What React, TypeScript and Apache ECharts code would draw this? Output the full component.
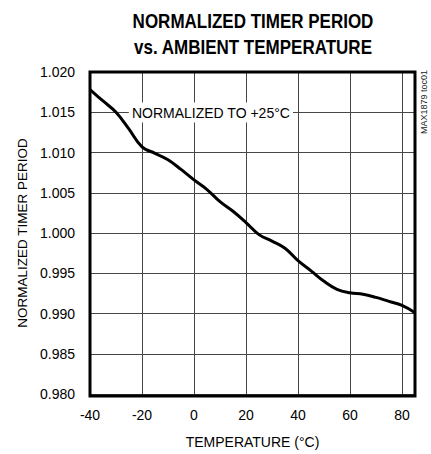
import React, { useEffect, useRef } from "react";
import * as echarts from "echarts";

const temperatures = [-40, -35, -30, -25, -20, -15, -10, -5, 0, 5, 10, 15, 20, 25, 30, 35, 40, 45, 50, 55, 60, 65, 70, 75, 80, 85];
const periods = [1.0178, 1.0164, 1.015, 1.0129, 1.0107, 1.0099, 1.0091, 1.0079, 1.0066, 1.0054, 1.0039, 1.0027, 1.0013, 0.9998, 0.999, 0.9981, 0.99656, 0.9953, 0.994, 0.993, 0.99257, 0.9924, 0.992, 0.9915, 0.991, 0.9901];
const xTicks = { min: -40, max: 85, interval: 20 };
const yTicks = { min: 0.98, max: 1.02, interval: 0.005 };
const xGridValues = [-20, 0, 20, 40, 60, 80];
const yGridValues = [0.985, 0.99, 0.995, 1.0, 1.005, 1.01, 1.015];
const titleLines = ["NORMALIZED TIMER PERIOD", "vs. AMBIENT TEMPERATURE"];
const noteText = "NORMALIZED TO +25°C";
const noteAt = [6.5, 1.015];
const partText = "MAX1879 toc01";

const SANS = "'Liberation Sans', Arial, Helvetica, sans-serif";
const GRID_COLOR = "rgb(70,70,70)";
const W = 431;
const H = 454;
const GRID = { left: 90, right: 16, top: 72, bottom: 58 };

export default function App() {
  const ref = useRef<HTMLDivElement>(null);
  useEffect(() => {
    if (!ref.current) return;
    const chart = echarts.init(ref.current, undefined, { renderer: "svg" });
    const data = temperatures.map((t, i) => [t, periods[i]]);
    const gx0 = GRID.left;
    const gy0 = GRID.top;
    const gw = W - GRID.left - GRID.right;
    const gh = H - GRID.top - GRID.bottom;
    const noteX = gx0 + ((noteAt[0] - xTicks.min) / (xTicks.max - xTicks.min)) * gw;
    const noteY = gy0 + ((yTicks.max - noteAt[1]) / (yTicks.max - yTicks.min)) * gh;
    chart.setOption({
      animation: false,
      grid: GRID,
      xAxis: {
        type: "value",
        min: xTicks.min,
        max: xTicks.max,
        interval: xTicks.interval,
        name: "TEMPERATURE (°C)",
        nameLocation: "middle",
        nameGap: 41,
        nameTextStyle: { fontFamily: SANS, fontSize: 14, color: "#000" },
        axisLine: { show: false },
        axisTick: { show: false },
        axisLabel: {
          fontFamily: SANS,
          fontSize: 14,
          color: "#000",
          margin: 14,
          formatter: (v: number) => (v > 80 ? "" : String(v)),
        },
        splitLine: { show: true, lineStyle: { color: GRID_COLOR, width: 1 } },
      },
      yAxis: {
        type: "value",
        min: yTicks.min,
        max: yTicks.max,
        interval: yTicks.interval,
        name: "NORMALIZED TIMER PERIOD",
        nameLocation: "middle",
        nameGap: 60,
        nameTextStyle: { fontFamily: SANS, fontSize: 13.5, color: "#000" },
        axisLine: { show: false },
        axisTick: { show: false },
        axisLabel: {
          fontFamily: SANS,
          fontSize: 14,
          color: "#000",
          margin: 15,
          formatter: (v: number) => v.toFixed(3),
        },
        splitLine: { show: true, lineStyle: { color: GRID_COLOR, width: 1 } },
      },
      series: [
        {
          type: "line",
          data,
          z: 1,
          showSymbol: false,
          silent: true,
          lineStyle: { opacity: 0, width: 0 },
          markLine: {
            silent: true,
            animation: false,
            symbol: ["none", "none"],
            label: { show: false },
            lineStyle: { color: GRID_COLOR, width: 1, type: "solid", opacity: 1 },
            emphasis: { disabled: true },
            data: [
              ...xGridValues.map((v) => ({ xAxis: v })),
              ...yGridValues.map((v) => ({ yAxis: v })),
            ],
          },
        },
        {
          type: "line",
          data,
          smooth: 0.4,
          showSymbol: false,
          lineStyle: { color: "#000", width: 3 },
          z: 5,
        },
      ],
      graphic: [
        {
          type: "rect",
          z: 20,
          shape: { x: gx0, y: gy0, width: gw, height: gh },
          style: { fill: "none", stroke: "#000", lineWidth: 3 },
          silent: true,
        },
        {
          type: "text",
          x: 253,
          y: 21,
          scaleX: 0.81,
          style: { text: titleLines[0], font: `bold 21px ${SANS}`, fill: "#000", align: "center", verticalAlign: "middle" },
        },
        {
          type: "text",
          x: 253,
          y: 47,
          scaleX: 0.81,
          style: { text: titleLines[1], font: `bold 21px ${SANS}`, fill: "#000", align: "center", verticalAlign: "middle" },
        },
        {
          type: "text",
          x: noteX,
          y: noteY,
          z: 10,
          style: {
            text: noteText,
            font: `14px ${SANS}`,
            fill: "#000",
            align: "center",
            verticalAlign: "middle",
            backgroundColor: "#fff",
            padding: [3, 3, 3, 3],
          },
        },
        {
          type: "text",
          x: 424,
          y: 102,
          rotation: Math.PI / 2,
          style: { text: partText, font: `9px ${SANS}`, fill: "#222", align: "center", verticalAlign: "middle" },
        },
      ],
    });
    return () => chart.dispose();
  }, []);
  return <div ref={ref} style={{ position: "absolute", left: 0, top: 0, width: W, height: H }} />;
}
